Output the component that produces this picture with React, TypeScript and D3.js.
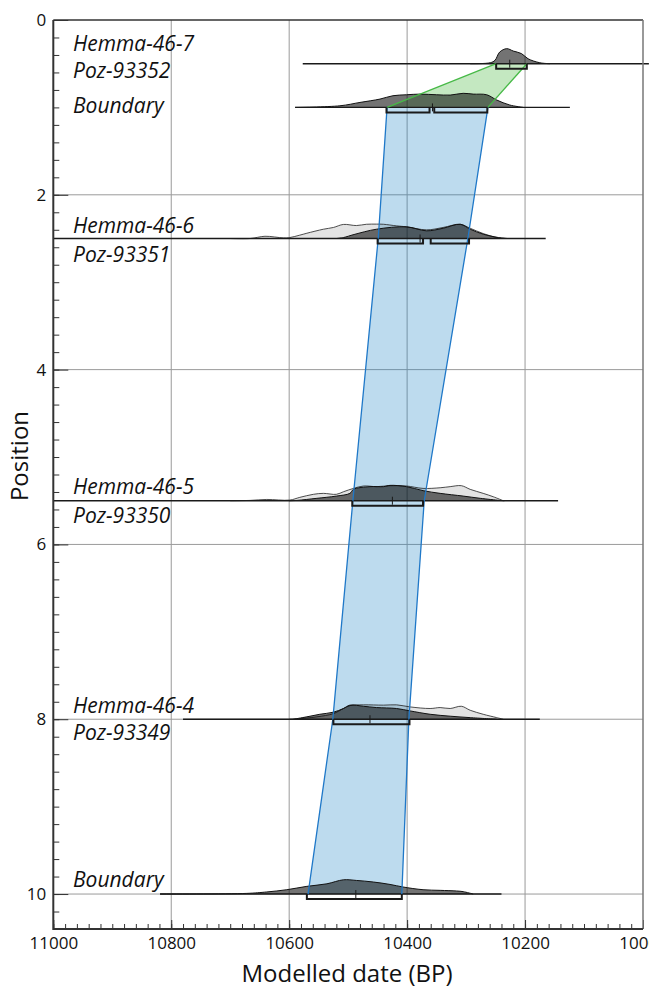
import { useEffect, useRef } from 'react'
import * as d3 from 'd3'

type Pt = [number, number]

// axis ticks
const positionTicks = [0, 2, 4, 6, 8, 10]
const dateTicks = [11000, 10800, 10600, 10400, 10200, 10000]

// rows of the model, top to bottom
const rowNames = ['Hemma-46-7', 'Boundary', 'Hemma-46-6', 'Hemma-46-5', 'Hemma-46-4', 'Boundary']
const rowCodes = ['Poz-93352', '', 'Poz-93351', 'Poz-93350', 'Poz-93349', '']
const rowPositions = [0.5, 1, 2.5, 5.5, 8, 10]
const rowLines: Pt[] = [[10577, 9990], [10590, 10124], [11000, 10165], [11000, 10144], [10780, 10175], [10819, 10240]]
const rowMedians = [10226, 10357, 10378, 10425, 10463, 10487]
const rowRanges: Pt[][] = [
  [[10249, 10197]],
  [[10435, 10362], [10354, 10264]],
  [[10450, 10373], [10360, 10295]],
  [[10493, 10373]],
  [[10525, 10396]],
  [[10570, 10409]],
]

// unmodelled (prior) likelihoods, relative density
const priorHemma466: Pt[] = [[10700, 0], [10666, 0], [10641, 0.14], [10610, 0.04], [10599, 0.06], [10582, 0.21], [10570, 0.33], [10542, 0.58], [10525, 0.69], [10508, 0.88], [10486, 0.81], [10469, 0.89], [10452, 0.9], [10440, 0.89], [10418, 0.79], [10401, 0.73], [10367, 0.54], [10339, 0.69], [10310, 0.89], [10293, 0.64], [10271, 0.31], [10245, 0.04], [10230, 0]]
const priorHemma465: Pt[] = [[10700, 0], [10666, 0.02], [10638, 0.08], [10599, 0.04], [10582, 0.21], [10559, 0.4], [10542, 0.46], [10520, 0.4], [10508, 0.56], [10491, 0.77], [10474, 0.92], [10452, 0.88], [10429, 0.94], [10401, 0.92], [10373, 0.77], [10344, 0.81], [10327, 0.88], [10308, 0.94], [10293, 0.71], [10271, 0.46], [10254, 0.25], [10237, 0]]
const priorHemma464: Pt[] = [[10600, 0], [10587, 0.02], [10553, 0.15], [10525, 0.35], [10508, 0.67], [10497, 0.85], [10474, 0.9], [10440, 0.88], [10418, 0.9], [10395, 0.77], [10361, 0.67], [10344, 0.73], [10327, 0.67], [10308, 0.81], [10293, 0.56], [10271, 0.31], [10248, 0.1], [10237, 0]]

// modelled (posterior) distributions, relative density
const postHemma467: Pt[] = [[10293, 0], [10259, 0.06], [10251, 0.21], [10243, 0.73], [10231, 0.94], [10220, 0.79], [10206, 0.63], [10195, 0.31], [10175, 0.06], [10158, 0]]
const postBoundaryTop: Pt[] = [[10590, 0], [10514, 0.1], [10480, 0.31], [10446, 0.52], [10424, 0.73], [10401, 0.79], [10378, 0.83], [10350, 0.79], [10327, 0.77], [10305, 0.88], [10288, 0.83], [10265, 0.79], [10248, 0.46], [10226, 0.15], [10203, 0]]
const postHemma466: Pt[] = [[10520, 0], [10508, 0.06], [10490, 0.25], [10452, 0.58], [10401, 0.73], [10367, 0.48], [10339, 0.64], [10310, 0.89], [10293, 0.58], [10271, 0.27], [10245, 0.06], [10230, 0]]
const postHemma465: Pt[] = [[10600, 0], [10587, 0.02], [10553, 0.15], [10520, 0.29], [10497, 0.46], [10491, 0.71], [10463, 0.88], [10440, 0.88], [10429, 0.96], [10401, 0.88], [10373, 0.63], [10344, 0.46], [10305, 0.29], [10276, 0.15], [10243, 0.02], [10235, 0]]
const postHemma464: Pt[] = [[10593, 0], [10570, 0.15], [10548, 0.31], [10525, 0.44], [10508, 0.67], [10497, 0.88], [10474, 0.81], [10452, 0.73], [10418, 0.67], [10395, 0.52], [10361, 0.31], [10327, 0.19], [10293, 0.1], [10248, 0]]
const postBoundaryBottom: Pt[] = [[10819, 0], [10672, 0.04], [10638, 0.13], [10604, 0.27], [10570, 0.48], [10536, 0.64], [10508, 0.89], [10486, 0.85], [10457, 0.75], [10429, 0.6], [10407, 0.44], [10373, 0.27], [10344, 0.23], [10316, 0.19], [10305, 0.15], [10288, 0]]

const priors = [null, null, priorHemma466, priorHemma465, priorHemma464, null]
const posteriors = [postHemma467, postBoundaryTop, postHemma466, postHemma465, postHemma464, postBoundaryBottom]

// 95.4% envelope of the deposition model
const envelopePositions = [1, 2.5, 5.5, 8, 10]
const envelopeOld = [10434, 10449, 10492, 10526, 10568]
const envelopeYoung = [10263, 10297, 10371, 10397, 10409]

// link from the top date to the upper boundary
const linkPositions = [0.5, 1]
const linkOld = [10249, 10434]
const linkYoung = [10197, 10263]

// label baseline offsets (px) from each row line: name, lab code
const labelOffsets = [[-13, 14], [6, 0], [-6, 23], [-7, 22], [-6, 21], [-7, 0]]

const FONT = '"Open Sans", "Noto Sans", sans-serif'

export default function App() {
  const svgRef = useRef<SVGSVGElement>(null)

  useEffect(() => {
    const svgNode = svgRef.current
    if (!svgNode) return
    const svg = d3.select(svgNode)
    svg.selectAll('*').remove()

    const width = 649
    const height = 990
    const left = 53.3
    const right = 643
    const top = 20
    const bottom = 929

    const x = d3.scaleLinear().domain([11000, 10000]).range([left, right])
    const y = d3.scaleLinear().domain([0, 10.4]).range([top, bottom])
    const h = d3.scaleLinear().domain([0, 1]).range([0, 16])

    svg.attr('viewBox', `0 0 ${width} ${height}`)

    // grid
    const grid = svg.append('g')
    grid.append('g')
      .selectAll('line')
      .data(dateTicks.slice(1, -1))
      .join('line')
      .attr('x1', d => x(d))
      .attr('x2', d => x(d))
      .attr('y1', top)
      .attr('y2', bottom)
      .attr('stroke', '#9a9a9a')
      .attr('stroke-width', 1)
    grid.append('g')
      .selectAll('line')
      .data(positionTicks.slice(1))
      .join('line')
      .attr('x1', left)
      .attr('x2', right)
      .attr('y1', d => y(d))
      .attr('y2', d => y(d))
      .attr('stroke', '#9a9a9a')
      .attr('stroke-width', 1)

    // envelope + link fills
    const envelope = envelopePositions.map((p, i) => ({ p, old: envelopeOld[i], young: envelopeYoung[i] }))
    const link = linkPositions.map((p, i) => ({ p, old: linkOld[i], young: linkYoung[i] }))
    const band = d3.area<{ p: number; old: number; young: number }>()
      .y(d => y(d.p))
      .x0(d => x(d.old))
      .x1(d => x(d.young))

    svg.append('path')
      .attr('d', band(envelope))
      .attr('fill', 'rgb(28,131,197)')
      .attr('fill-opacity', 0.29)
    svg.append('path')
      .attr('d', band(link))
      .attr('fill', 'rgb(60,180,50)')
      .attr('fill-opacity', 0.3)

    // distributions
    const rows = svg.append('g')
    rowPositions.forEach((pos, i) => {
      const base = y(pos)
      const area = d3.area<Pt>()
        .x(d => x(d[0]))
        .y0(base)
        .y1(d => base - h(d[1]))
        .curve(d3.curveCatmullRom.alpha(0.5))
      const line = d3.line<Pt>()
        .x(d => x(d[0]))
        .y(d => base - h(d[1]))
        .curve(d3.curveCatmullRom.alpha(0.5))
      const g = rows.append('g')
      const prior = priors[i]
      if (prior) {
        g.append('path').attr('d', area(prior)).attr('fill', '#000').attr('fill-opacity', 0.11)
        g.append('path').attr('d', line(prior)).attr('fill', 'none').attr('stroke', '#222').attr('stroke-width', 0.8)
      }
      g.append('path').attr('d', area(posteriors[i])).attr('fill', '#000').attr('fill-opacity', 0.55)
      g.append('path').attr('d', line(posteriors[i])).attr('fill', 'none').attr('stroke', '#111').attr('stroke-width', 1)
      g.append('line')
        .attr('x1', Math.max(left, x(rowLines[i][0])))
        .attr('x2', x(rowLines[i][1]))
        .attr('y1', base)
        .attr('y2', base)
        .attr('stroke', '#1a1a1a')
        .attr('stroke-width', 1.4)
    })

    // envelope + link outlines
    const edge = d3.line<{ p: number; v: number }>().x(d => x(d.v)).y(d => y(d.p))
    ;[envelopeOld, envelopeYoung].forEach(vals => {
      svg.append('path')
        .attr('d', edge(envelopePositions.map((p, i) => ({ p, v: vals[i] }))))
        .attr('fill', 'none')
        .attr('stroke', '#1f78c8')
        .attr('stroke-width', 1.3)
    })
    ;[linkOld, linkYoung].forEach(vals => {
      svg.append('path')
        .attr('d', edge(linkPositions.map((p, i) => ({ p, v: vals[i] }))))
        .attr('fill', 'none')
        .attr('stroke', '#46b946')
        .attr('stroke-width', 1.3)
    })

    // ranges + medians
    const marks = svg.append('g').attr('stroke', '#1a1a1a').attr('fill', 'none')
    rowPositions.forEach((pos, i) => {
      const base = y(pos)
      rowRanges[i].forEach(([a, b]) => {
        marks.append('path')
          .attr('d', `M${x(a)},${base}V${base + 5}H${x(b)}V${base}`)
          .attr('stroke-width', 2)
      })
      marks.append('line')
        .attr('x1', x(rowMedians[i]))
        .attr('x2', x(rowMedians[i]))
        .attr('y1', base - 4)
        .attr('y2', base + 4)
        .attr('stroke-width', 1)
    })

    // labels
    const labels = svg.append('g')
      .attr('font-family', FONT)
      .attr('font-style', 'italic')
      .attr('font-size', 21)
      .attr('fill', '#111')
    rowPositions.forEach((pos, i) => {
      labels.append('text').attr('x', 73).attr('y', y(pos) + labelOffsets[i][0]).text(rowNames[i])
      if (rowCodes[i]) {
        labels.append('text').attr('x', 73).attr('y', y(pos) + labelOffsets[i][1]).text(rowCodes[i])
      }
    })

    // axes
    const axisColor = '#333'
    const minorPos = d3.range(0, 53).map(i => +(i * 0.2).toFixed(1))
    const minorDate = d3.range(0, 51).map(i => 11000 - i * 20)

    const yMinor = svg.append('g').attr('transform', `translate(${left},0)`)
      .call(d3.axisLeft(y).tickValues(minorPos).tickSize(-6).tickFormat(() => ''))
    const yMajor = svg.append('g').attr('transform', `translate(${left},0)`)
      .call(d3.axisLeft(y).tickValues(positionTicks).tickSize(-15).tickPadding(7).tickFormat(d3.format('d')))
    const xMinor = svg.append('g').attr('transform', `translate(0,${bottom})`)
      .call(d3.axisBottom(x).tickValues(minorDate).tickSize(-5).tickFormat(() => ''))
    const xMajor = svg.append('g').attr('transform', `translate(0,${bottom})`)
      .call(d3.axisBottom(x).tickValues(dateTicks).tickSize(-9).tickPadding(8).tickFormat(d3.format('d')))

    ;[yMinor, yMajor, xMinor, xMajor].forEach(g => {
      g.select('.domain').remove()
      g.selectAll('line').attr('stroke', axisColor).attr('stroke-width', 1)
      g.selectAll('text').attr('font-family', FONT).attr('font-size', 17).attr('fill', '#111')
    })

    // frame
    svg.append('line').attr('x1', left).attr('x2', right).attr('y1', top).attr('y2', top).attr('stroke', '#333').attr('stroke-width', 1.5)
    svg.append('line').attr('x1', right).attr('x2', right).attr('y1', top).attr('y2', bottom).attr('stroke', '#777').attr('stroke-width', 1.5)
    svg.append('line').attr('x1', left).attr('x2', left).attr('y1', top).attr('y2', bottom + 1).attr('stroke', axisColor).attr('stroke-width', 2)
    svg.append('line').attr('x1', left).attr('x2', right).attr('y1', bottom).attr('y2', bottom).attr('stroke', axisColor).attr('stroke-width', 2)

    // titles
    svg.append('text')
      .attr('x', 347)
      .attr('y', 982)
      .attr('text-anchor', 'middle')
      .attr('font-family', FONT)
      .attr('font-size', 24)
      .attr('fill', '#111')
      .text('Modelled date (BP)')
    svg.append('text')
      .attr('transform', `translate(28,${456}) rotate(-90)`)
      .attr('text-anchor', 'middle')
      .attr('font-family', FONT)
      .attr('font-size', 24)
      .attr('fill', '#111')
      .text('Position')
  }, [])

  return (
    <svg
      ref={svgRef}
      width={649}
      height={990}
      style={{ position: 'absolute', left: 0, top: 0, display: 'block', background: '#fff' }}
    />
  )
}
